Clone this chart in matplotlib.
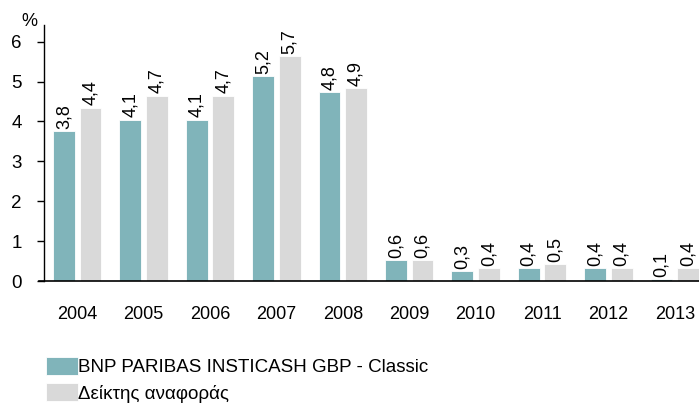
import matplotlib
matplotlib.use("Agg")
import matplotlib.pyplot as plt
import numpy as np

plt.rcParams['font.family'] = ['Liberation Sans', 'DejaVu Sans']

# data
years = ["2004", "2005", "2006", "2007", "2008", "2009", "2010", "2011", "2012", "2013"]
fund = [3.75, 4.05, 4.05, 5.15, 4.75, 0.53, 0.24, 0.33, 0.33, 0.04]
index = [4.35, 4.65, 4.65, 5.65, 4.85, 0.53, 0.33, 0.43, 0.33, 0.33]
fund_labels = ["3,8", "4,1", "4,1", "5,2", "4,8", "0,6", "0,3", "0,4", "0,4", "0,1"]
index_labels = ["4,4", "4,7", "4,7", "5,7", "4,9", "0,6", "0,4", "0,5", "0,4", "0,4"]
series_names = ["BNP PARIBAS INSTICASH GBP - Classic", "Δείκτης αναφοράς"]

teal = "#80b4ba"
grey = "#d9d9d9"

fig = plt.figure(figsize=(6.99, 4.03), dpi=100)
ax = fig.add_axes([44 / 699, 1 - 281 / 403, 664 / 699, 256 / 403])

x = np.arange(len(years))
w = 0.33
b1 = ax.bar(x - 0.2, fund, w, color=teal, edgecolor="white", linewidth=0.6,
            label=series_names[0])
b2 = ax.bar(x + 0.2, index, w, color=grey, edgecolor="white", linewidth=0.6,
            label=series_names[1])

for bars, labs in ((b1, fund_labels), (b2, index_labels)):
    for r, t in zip(bars, labs):
        ax.annotate(t, (r.get_x() + r.get_width() / 2, r.get_height()),
                    xytext=(0, 1.5), textcoords="offset points",
                    rotation=90, ha="center", va="bottom", fontsize=13)

ax.set_xlim(-0.5, len(years) - 0.5)
ax.set_ylim(0, 6.42)
ax.set_yticks(range(7))
ax.set_xticks(x)
ax.set_xticklabels(years)
ax.tick_params(axis="x", length=0, pad=18, labelsize=13)
ax.tick_params(axis="y", length=5, width=1, direction="out", labelsize=13.5, pad=11)
for s in ("top", "right"):
    ax.spines[s].set_visible(False)
ax.spines["left"].set_linewidth(1)
ax.spines["bottom"].set_linewidth(1.2)
ax.spines["bottom"].set_bounds(-0.58, len(years) - 0.5)

fig.text(29 / 699, 1 - 21 / 403, "%", fontsize=13, ha="center", va="center")

fig.legend(handles=[b1, b2], loc="upper left",
           bbox_to_anchor=(46 / 699, 1 - 357 / 403), frameon=False,
           fontsize=13.5, handlelength=1.7, handleheight=1.12,
           handletextpad=0.0, labelspacing=0.35, borderaxespad=0, borderpad=0)

fig.savefig("out.png", dpi=100)
